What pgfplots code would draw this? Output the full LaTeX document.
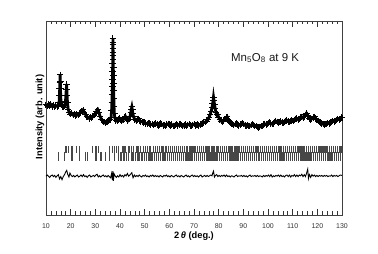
\documentclass[border=0pt]{standalone}
\usepackage{fontspec}
\setmainfont{Liberation Sans}
\usepackage{pgfplots}
\usepackage{pgfplotstable}
\pgfplotsset{compat=1.18}

\pgfplotstableread{
x y
10 56.8
10.5 56.2
11 57.0
11.5 56.4
12 56.9
12.5 56.0
13 56.6
13.5 55.8
14 56.4
14.5 56.0
15 56.5
15.3 58
15.45 61.5
15.55 65
15.65 68.5
15.72 72.2
15.8 68.8
15.88 65
15.95 61.5
16.1 58
16.4 56.8
16.8 56.0
17.2 55.6
17.6 56.4
17.9 58.5
18.05 61.5
18.2 64.5
18.35 67.5
18.45 64.5
18.55 61.5
18.7 58
19.0 54.5
19.4 52.8
19.8 52.0
20.3 52.6
21 51.6
21.5 52.2
22 51.2
22.5 51.8
23 51.4
23.5 52.4
24 52.8
24.5 53.6
25 54.2
25.5 53.0
26 51.8
26.5 50.8
27 50.4
27.5 49.8
28 50.4
28.5 50.0
29 50.8
29.5 51.4
30 52.2
30.5 53.4
31 54.2
31.5 52.6
32 50.6
32.5 49.4
33 48.6
33.5 47.8
34 47.4
34.5 47.8
35 48.2
35.5 48.6
36 49.2
36.4 50.5
36.6 54
36.72 58
36.82 62
36.9 66
36.96 70
37.0 74
37.04 78
37.07 82
37.1 86
37.12 89
37.14 91.2
37.18 88
37.21 84
37.25 80
37.29 76
37.33 72
37.38 68
37.43 64
37.5 60
37.58 56
37.7 52.5
37.9 50
38.3 48.8
38.8 48.4
39.3 49.2
39.8 49.8
40.3 49.0
40.8 48.4
41.3 49.0
41.8 50.4
42.2 50.8
42.7 49.4
43.2 48.6
43.7 49.4
44.1 51
44.4 53
44.6 54.6
44.8 55.7
45.0 54.2
45.2 52.4
45.5 50.6
46 49.2
46.5 48.6
47 49.2
47.5 49.6
48 48.8
48.5 48.2
49 48.0
49.5 47.6
50 47.8
50.5 47.2
51 47.0
51.5 47.4
52 47.2
52.5 46.6
53 46.8
53.5 46.4
54 47.0
54.5 47.2
55 46.6
55.5 46.2
56 46.6
56.5 47.2
57 46.8
57.5 46.2
58 46.4
58.5 46.0
59 46.6
59.5 47.0
60 46.6
60.5 46.2
61 46.6
61.5 46.0
62 45.8
62.5 46.4
63 46.8
63.5 46.2
64 46.6
64.5 47.0
65 46.4
65.5 45.8
66 46.2
66.5 46.6
67 46.0
67.5 46.4
68 46.8
68.5 46.2
69 46.0
69.5 46.4
70 46.8
70.5 46.2
71 46.4
71.5 46.6
72 46.2
72.5 46.6
73 47.0
73.5 47.2
74 47.6
74.5 47.8
75 48.4
75.5 49.0
76 50.0
76.5 51.6
77 53.6
77.3 55.5
77.55 57.5
77.75 59.2
77.9 60.8
78.1 59
78.3 57
78.6 54.8
78.9 52.8
79.3 51.6
79.6 51.8
80 50.4
80.5 49.2
81 48.4
81.5 48.0
82 48.6
82.5 49.4
83 50.2
83.4 50.6
83.8 49.4
84.2 48.2
84.7 47.6
85.2 47.2
85.7 46.8
86.2 46.4
86.7 46.8
87.2 47.2
87.7 46.6
88.2 46.2
88.7 46.6
89.2 47.0
89.7 47.4
90.2 46.8
90.7 46.2
91.2 46.0
91.7 46.4
92.2 46.0
92.7 45.8
93.2 46.4
93.7 46.8
94.2 46.4
94.7 46.0
95.2 45.8
95.7 45.4
96.2 45.2
96.7 45.4
97.2 45.8
97.7 46.0
98.2 46.6
98.7 47.0
99.2 46.6
99.7 46.8
100.2 47.4
100.7 47.8
101.2 47.2
101.7 46.8
102.2 47.2
102.7 47.8
103.2 48.4
103.7 48.0
104.2 47.6
104.7 47.8
105.2 48.2
105.7 47.6
106.2 47.4
106.7 48.0
107.2 48.6
107.7 48.8
108.2 48.2
108.7 47.8
109.2 48.4
109.7 48.8
110.2 48.4
110.7 49.0
111.2 49.6
111.7 49.8
112.2 49.2
112.7 49.6
113.2 50.2
113.7 50.6
114.2 50.0
114.7 50.8
115.2 51.6
115.6 52.4
116.0 51.4
116.4 50.6
116.8 49.8
117.3 49.2
117.8 49.6
118.3 50.2
118.8 50.6
119.3 49.8
119.8 49.2
120.3 48.6
120.8 48.0
121.3 47.6
121.8 47.2
122.3 46.8
122.8 46.6
123.3 46.8
123.8 47.0
124.3 47.4
124.8 47.2
125.3 47.6
125.8 48.0
126.3 48.4
126.8 48.2
127.3 48.6
127.8 49.0
128.3 49.4
128.8 49.2
129.3 49.6
129.8 50.2
130 50.0
}\obs

\pgfplotstableread{
x y
10 20.0
10.5 20.6
11 20.0
11.5 19.4
12 20.2
12.5 20.6
13 19.8
13.5 20.4
14 19.4
14.5 20.2
15 20.8
15.5 18.6
16 19.8
16.5 18.2
17 19.8
17.5 20.8
18 22.2
18.4 23.0
18.8 21.0
19.3 19.6
19.7 21.6
20.2 20.4
20.7 19.8
21.2 20.4
21.7 19.6
22.2 20.2
22.7 20.6
23.2 19.6
23.7 20.0
24.2 20.6
24.7 19.8
25.2 20.8
25.7 19.8
26.2 20.2
26.7 19.4
27.2 20.2
27.7 20.6
28.2 19.6
28.7 20.0
29.2 20.4
29.7 19.8
30.2 20.6
30.7 21.0
31.2 19.6
31.7 20.2
32.2 19.6
32.7 20.2
33.2 20.6
33.7 19.8
34.2 20.2
34.7 19.6
35.2 20.4
35.7 19.8
36.2 19.2
36.6 21.4
36.9 18.0
37.1 22.6
37.3 17.6
37.6 21.2
38 20.2
38.5 19.4
39 20.2
39.5 19.6
40 20.8
40.5 19.8
41 20.4
41.5 19.6
42 20.8
42.5 20.2
43 21.4
43.5 20.0
44 20.6
44.8 21.8
45.3 19.2
45.8 20.6
46.3 19.8
46.8 20.4
47.3 19.8
47.8 20.6
48.3 20.0
48.8 19.6
49.3 20.4
49.8 20.0
50.3 20.6
50.8 19.8
51.3 20.2
51.8 19.6
52.3 20.4
52.8 20.0
53.3 20.6
53.8 19.8
54.3 20.4
54.8 19.8
55.3 20.2
55.8 19.6
56.3 20.4
56.8 20.0
57.3 19.6
57.8 20.4
58.3 20.0
58.8 20.6
59.3 19.8
59.8 20.2
60.3 19.6
60.8 20.4
61.3 20.0
61.8 19.6
62.3 20.2
62.8 20.6
63.3 19.8
63.8 20.2
64.3 19.6
64.8 20.4
65.3 20.0
65.8 19.6
66.3 20.2
66.8 20.6
67.3 19.8
67.8 20.2
68.3 19.6
68.8 20.2
69.3 20.6
69.8 19.8
70.3 20.4
70.8 19.8
71.3 20.2
71.8 19.6
72.3 20.2
72.8 20.6
73.3 19.6
73.8 20.0
74.3 20.4
74.8 19.8
75.3 20.4
75.8 19.8
76.3 20.2
76.8 20.6
77.3 20.2
77.6 21.6
77.9 22.6
78.3 19.6
78.7 20.4
79.2 20.8
79.7 19.8
80.2 20.4
80.7 19.8
81.2 20.4
81.7 20.0
82.2 20.6
82.7 19.8
83.2 20.6
83.7 19.8
84.2 20.2
84.7 19.6
85.2 20.2
85.7 20.0
86.2 19.6
86.7 20.2
87.2 20.6
87.7 19.8
88.2 20.2
88.7 20.0
89.2 20.4
89.7 19.8
90.2 20.4
90.7 19.8
91.2 20.2
91.7 19.6
92.2 20.2
92.7 20.6
93.2 19.8
93.7 20.2
94.2 20.0
94.7 20.4
95.2 19.8
95.7 20.4
96.2 19.8
96.7 20.2
97.2 20.0
97.7 19.6
98.2 20.4
98.7 19.8
99.2 20.4
99.7 20.0
100.2 20.6
100.7 19.8
101.2 20.8
101.7 19.6
102.2 20.2
102.7 19.8
103.2 20.4
103.7 20.0
104.2 20.6
104.7 19.8
105.2 20.6
105.7 19.8
106.2 20.2
106.7 19.6
107.2 20.4
107.7 20.6
108.2 19.8
108.7 20.6
109.2 19.6
109.7 20.4
110.2 20.0
110.7 20.8
111.2 19.8
111.7 20.6
112.2 19.8
112.7 20.6
113.2 20.2
113.7 21.0
114.2 19.8
114.7 20.8
115.2 19.8
115.6 21.4
116.1 23.6
116.4 18.8
116.8 20.8
117.3 19.4
117.8 20.8
118.3 20.0
118.8 20.6
119.3 19.8
119.8 20.4
120.3 19.8
120.8 20.4
121.3 20.0
121.8 20.4
122.3 19.8
122.8 20.4
123.3 20.0
123.8 20.4
124.3 19.8
124.8 20.2
125.3 20.0
125.8 20.6
126.3 19.8
126.8 20.4
127.3 20.0
127.8 20.4
128.3 19.8
128.8 20.2
129.3 20.6
130 20.4
}\diff

\begin{document}
\begin{tikzpicture}[x=1bp,y=1bp]
\path[use as bounding box] (0,0) rectangle (378,254);
\begin{axis}[
  at={(46bp,39bp)}, anchor=south west,
  scale only axis, width=296bp, height=194bp,
  xmin=10, xmax=130, ymin=0, ymax=100,
  xtick={10,20,...,130}, minor x tick num=4,
  ytick=\empty,
  tick align=inside, xtick pos=both,
  major tick length=6bp, minor tick length=3.5bp,
  axis line style={black!75, line width=0.7bp},
  every tick/.style={black!80, line width=0.6bp},
  /pgf/number format/assume math mode=true,
  xticklabel style={font=\fontsize{7}{8}\selectfont, text=black!80, yshift=-5bp},
  clip=false,
]
% Bragg reflection positions (upper row)
\addplot[only marks, mark=|, mark size=3.5bp, black!72, mark options={line width=1.2bp}] coordinates {
(18.1,33.8)(19.2,33.8)(20.5,33.8)(22.4,33.8)(23.5,33.8)(28.9,33.8)(30.3,33.8)(31.4,33.8)(35.9,33.8)(36.8,33.8)(37.7,33.8)(38.6,33.8)(39.5,33.8)
(41.2,33.8)(42.0,33.8)(43.3,33.8)(44.0,33.8)(44.8,33.8)(45.5,33.8)(46.9,33.8)(47.6,33.8)(48.3,33.8)(49.5,33.8)(50.2,33.8)(51.0,33.8)(51.8,33.8)(52.5,33.8)(53.6,33.8)(54.3,33.8)(55.1,33.8)(56.0,33.8)(56.7,33.8)(57.4,33.8)(58.3,33.8)(59.0,33.8)(59.8,33.8)(60.6,33.8)(61.4,33.8)(62.0,33.8)(62.9,33.8)(63.6,33.8)(64.4,33.8)(65.3,33.8)(66.0,33.8)(66.8,33.8)(67.5,33.8)(68.4,33.8)(69.2,33.8)(70.0,33.8)(70.6,33.8)(71.5,33.8)(72.3,33.8)(73.0,33.8)(73.8,33.8)(74.6,33.8)(75.3,33.8)(76.1,33.8)(77.0,33.8)(77.7,33.8)(78.4,33.8)(79.3,33.8)(80.0,33.8)(80.8,33.8)(81.5,33.8)(82.4,33.8)(83.1,33.8)(83.9,33.8)(84.6,33.8)(85.4,33.8)(86.3,33.8)(87.0,33.8)(87.8,33.8)(88.6,33.8)(89.3,33.8)(90.1,33.8)(90.9,33.8)(91.7,33.8)(92.4,33.8)(93.2,33.8)(94.0,33.8)(94.8,33.8)(95.5,33.8)(96.3,33.8)(97.1,33.8)(97.8,33.8)(98.7,33.8)(99.4,33.8)(100.2,33.8)(101.0,33.8)(101.8,33.8)(102.5,33.8)(103.3,33.8)(104.1,33.8)(104.9,33.8)(105.6,33.8)(106.4,33.8)(107.2,33.8)(108.0,33.8)(108.7,33.8)(109.5,33.8)(110.3,33.8)(111.1,33.8)(111.8,33.8)(112.6,33.8)(113.4,33.8)(114.2,33.8)(114.9,33.8)(115.7,33.8)(116.5,33.8)(117.3,33.8)(118.0,33.8)(118.8,33.8)(119.6,33.8)(120.4,33.8)(121.1,33.8)(121.9,33.8)(122.7,33.8)(123.5,33.8)(124.2,33.8)(125.0,33.8)(125.8,33.8)(126.6,33.8)(127.3,33.8)(128.1,33.8)(128.9,33.8)(129.6,33.8)
};
% Bragg reflection positions (lower row)
\addplot[only marks, mark=|, mark size=4.5bp, black!72, mark options={line width=1.2bp}] coordinates {
(15.1,30.2)(17.4,30.2)(20.5,30.2)(23.5,30.2)(25.9,30.2)(26.9,30.2)(30.3,30.2)(32.3,30.2)(34.1,30.2)(35.9,30.2)(37.7,30.2)(39.5,30.2)
(40.4,30.2)(41.6,30.2)(42.5,30.2)(43.4,30.2)(44.6,30.2)(45.3,30.2)(46.2,30.2)(47.3,30.2)(48.0,30.2)(48.9,30.2)(49.9,30.2)(50.6,30.2)(51.4,30.2)(52.2,30.2)(53.0,30.2)(53.9,30.2)(54.7,30.2)(55.5,30.2)(56.3,30.2)(57.1,30.2)(57.8,30.2)(58.6,30.2)(59.4,30.2)(60.2,30.2)(61.0,30.2)(61.7,30.2)(62.5,30.2)(63.3,30.2)(64.1,30.2)(64.8,30.2)(65.6,30.2)(66.4,30.2)(67.2,30.2)(68.0,30.2)(68.8,30.2)(69.5,30.2)(70.3,30.2)(71.1,30.2)(71.9,30.2)(72.6,30.2)(73.4,30.2)(74.2,30.2)(75.0,30.2)(75.7,30.2)(76.5,30.2)(77.3,30.2)(78.1,30.2)(78.9,30.2)(79.6,30.2)(80.4,30.2)(81.2,30.2)(82.0,30.2)(82.7,30.2)(83.5,30.2)(84.3,30.2)(85.0,30.2)(85.8,30.2)(86.6,30.2)(87.4,30.2)(88.2,30.2)(89.0,30.2)(89.7,30.2)(90.5,30.2)(91.3,30.2)(92.1,30.2)(92.8,30.2)(93.6,30.2)(94.4,30.2)(95.2,30.2)(96.0,30.2)(96.7,30.2)(97.5,30.2)(98.3,30.2)(99.1,30.2)(99.8,30.2)(100.6,30.2)(101.4,30.2)(102.2,30.2)(103.0,30.2)(103.7,30.2)(104.5,30.2)(105.3,30.2)(106.1,30.2)(106.8,30.2)(107.6,30.2)(108.4,30.2)(109.2,30.2)(110.0,30.2)(110.7,30.2)(111.5,30.2)(112.3,30.2)(113.1,30.2)(113.8,30.2)(114.6,30.2)(115.4,30.2)(116.2,30.2)(117.0,30.2)(117.7,30.2)(118.5,30.2)(119.3,30.2)(120.1,30.2)(120.8,30.2)(121.6,30.2)(122.4,30.2)(123.2,30.2)(124.0,30.2)(124.7,30.2)(125.5,30.2)(126.3,30.2)(127.1,30.2)(127.8,30.2)(128.6,30.2)(129.4,30.2)
};
% difference
\addplot[black, line width=0.9bp, mark=none] table[x=x,y=y] {\diff};
% observed (+) and calculated (line)
\addplot[only marks, mark=+, mark size=3.2bp, black, mark options={line width=1bp}] table[x=x,y=y] {\obs};
\addplot[black, line width=2.8bp, mark=none] table[x=x,y=y] {\obs};
\node[font=\fontsize{11.5}{12}\selectfont, text=black!90] at (axis cs:98.8,80.9) {Mn\textsubscript{5}O\textsubscript{8} at 9 K};
\end{axis}
\node[rotate=90, font=\bfseries\fontsize{9.3}{10}\selectfont] at (40,137) {Intensity (arb. unit)};
\node[font=\bfseries\fontsize{9.3}{10}\selectfont] at (194,18) {2\,\textit{θ} (deg.)};
\end{tikzpicture}
\end{document}
